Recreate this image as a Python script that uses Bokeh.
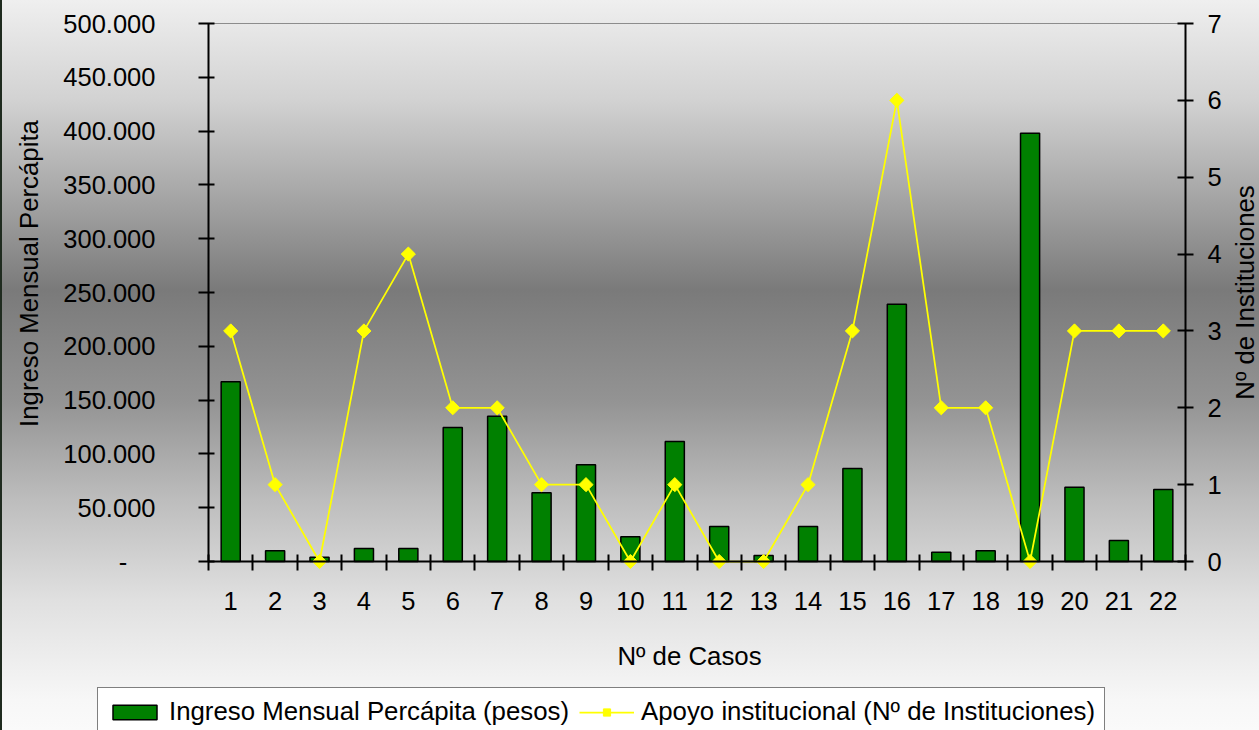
import math
from bokeh.plotting import figure
from bokeh.models import Range1d, LinearAxis, FixedTicker, Legend, LegendItem, Label
from bokeh.embed import file_html
from bokeh.resources import INLINE

# ---- data ----
cases = list(range(1, 23))
ingreso = [167000, 10000, 4000, 12000, 12000, 124500, 135000, 64000, 90000, 23000, 111500,
           32500, 5500, 32500, 86500, 239000, 8500, 10000, 398000, 69000, 19500, 67000]
apoyo = [3, 1, 0, 3, 4, 2, 2, 1, 1, 0, 1, 0, 0, 1, 3, 6, 2, 2, 0, 3, 3, 3]

y_ticks = [0, 50000, 100000, 150000, 200000, 250000, 300000, 350000, 400000, 450000, 500000]
y_tick_labels = ["-\u00a0\u00a0\u00a0\u00a0", "50.000", "100.000", "150.000", "200.000", "250.000",
                 "300.000", "350.000", "400.000", "450.000", "500.000"]
y2_ticks = [0, 1, 2, 3, 4, 5, 6, 7]

x_label = "Nº de Casos"
y_label = "Ingreso Mensual Percápita"
y2_label = "Nº de Instituciones"
bar_legend = "Ingreso Mensual Percápita (pesos)"
line_legend = "Apoyo institucional (Nº de Instituciones)"

# ---- layout constants (pixels) ----
W, H = 1259, 730
PL, PR, PT, PB = 208, 1185, 23, 561      # plot-area edges
FONT = "Liberation Sans"
FS_TICK = "25.5px"
FS_TEXT = "25.8px"

# data extents of the plot area
x0, x1 = cases[0] - 0.5, cases[-1] + 0.5
y0, y1 = y_ticks[0], y_ticks[-1]
i0, i1 = y2_ticks[0], y2_ticks[-1]

def padded(lo, hi, px_lo, px_hi, span_px):
    per = (hi - lo) / span_px
    return Range1d(lo - px_lo * per, hi + px_hi * per)

p = figure(width=W, height=H, output_backend="svg", toolbar_location=None,
           x_range=padded(x0, x1, PL, W - PR, PR - PL),
           y_range=padded(y0, y1, H - PB, PT, PB - PT),
           min_border_left=0, min_border_right=0, min_border_top=0, min_border_bottom=0)
p.extra_y_ranges = {"inst": padded(i0, i1, H - PB, PT, PB - PT)}

p.background_fill_alpha = 0
p.border_fill_alpha = 0
p.outline_line_color = None
p.styles = {
    "background": "linear-gradient(to bottom, #efefef 0%, #d2d2d2 13.7%, #a4a4a4 27.4%, "
                  "#7a7a7a 39.7%, #939393 54.8%, #bdbdbd 68.5%, #e0e0e0 82.2%, #f7f7f7 95.9%, #fafafa 100%)",
    "box-shadow": "inset 2px 0 0 #1f2b1f",
}
p.xgrid.visible = False
p.ygrid.visible = False

# x axis (category boundaries carry the ticks)
boundaries = [c - 0.5 for c in cases] + [cases[-1] + 0.5]
xa = p.xaxis[0]
xa.fixed_location = y0
xa.bounds = (x0, x1)
xa.ticker = FixedTicker(ticks=cases, minor_ticks=boundaries)
xa.major_tick_in = 0
xa.major_tick_out = 0
xa.minor_tick_in = 7
xa.minor_tick_out = 9
xa.minor_tick_line_color = "black"
xa.minor_tick_line_width = 2
xa.major_label_standoff = 21

# left y axis
ya = p.yaxis[0]
ya.fixed_location = x0
ya.bounds = (y0, y1)
ya.ticker = FixedTicker(ticks=y_ticks)
ya.major_label_overrides = dict(zip(y_ticks, y_tick_labels))
ya.major_tick_in = 6
ya.major_tick_out = 10
ya.major_label_standoff = 43
ya.minor_tick_line_color = None

# right y axis
ya2 = LinearAxis(y_range_name="inst", ticker=FixedTicker(ticks=y2_ticks),
                 fixed_location=x1, bounds=(i0, i1))
ya2.major_tick_in = 8
ya2.major_tick_out = 8
ya2.major_label_standoff = 14
ya2.minor_tick_line_color = None
p.add_layout(ya2, "right")

for ax in (xa, ya, ya2):
    ax.axis_line_color = "black"
    ax.axis_line_width = 2
    ax.major_tick_line_color = "black"
    ax.major_tick_line_width = 2
    ax.major_label_text_font = FONT
    ax.major_label_text_font_size = FS_TICK
    ax.major_label_text_color = "black"

# thin grey border along the top of the plot area
top = LinearAxis(fixed_location=y1, bounds=(x0, x1), ticker=FixedTicker(ticks=[]))
top.axis_line_color = "#8c8c8c"
top.axis_line_width = 1
top.major_tick_line_color = None
top.minor_tick_line_color = None
top.major_label_text_color = None
p.add_layout(top, "above")

# axis titles
def title(text, sx, sy, angle=0.0):
    return Label(x=sx, y=H - sy, x_units="screen", y_units="screen", text=text, angle=angle,
                 text_font=FONT, text_font_size=FS_TEXT, text_color="black",
                 text_align="center", text_baseline="middle")

p.add_layout(title(y_label, 28, 273, math.pi / 2))
p.add_layout(title(y2_label, 1244, 292, math.pi / 2))
p.add_layout(title(x_label, 689, 655))

bars = p.vbar(x=cases, top=ingreso, width=0.43, fill_color="#008000",
              line_color="black", line_width=1.5)
ln = p.line(cases, apoyo, y_range_name="inst", line_color="#ffff00", line_width=1.75)
sc = p.scatter(cases, apoyo, y_range_name="inst", marker="square", angle=math.pi / 4,
               size=10, fill_color="#ffff00", line_color="#ffff00")

LEG_LEFT, LEG_TOP, LEG_H = 97, 686, 50
legend = Legend(items=[LegendItem(label=bar_legend, renderers=[bars]),
                       LegendItem(label=line_legend, renderers=[ln, sc])],
                orientation="horizontal", location=(LEG_LEFT, H - (LEG_TOP + LEG_H)))
legend.border_line_color = "black"
legend.border_line_width = 1
legend.background_fill_color = "white"
legend.background_fill_alpha = 1
legend.label_text_font = FONT
legend.label_text_font_size = FS_TEXT
legend.label_text_color = "black"
legend.glyph_width = 55
legend.glyph_height = 18
legend.label_standoff = 7
legend.spacing = 10
legend.padding = 9
legend.margin = 0
p.add_layout(legend)

open("out.html", "w").write(file_html(p, INLINE))
